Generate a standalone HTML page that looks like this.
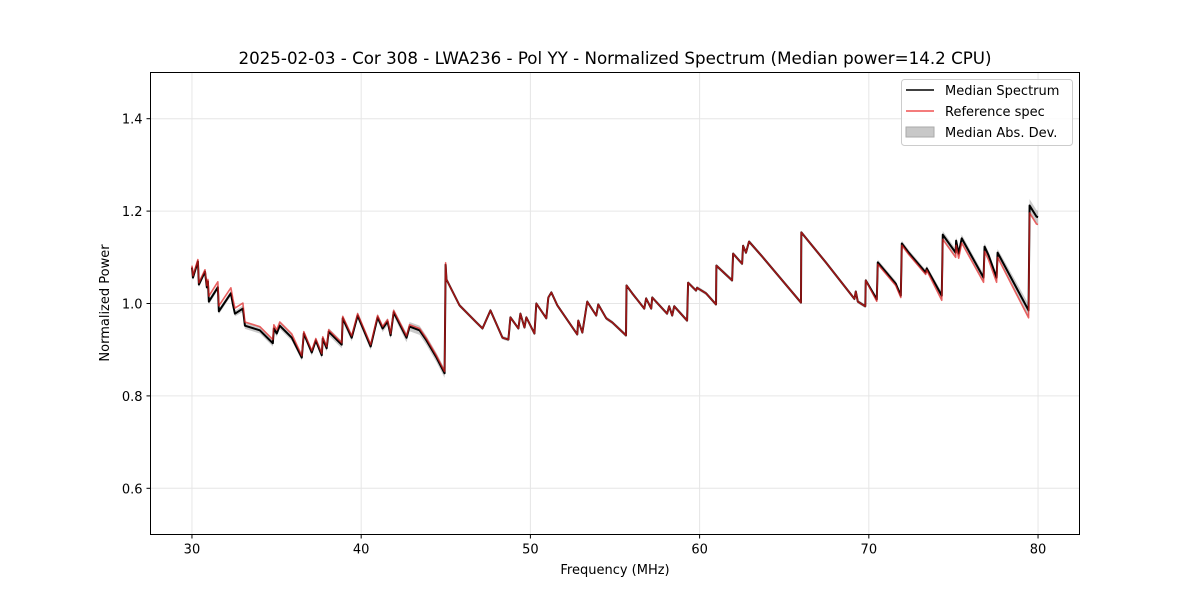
<!DOCTYPE html>
<html><head><meta charset="utf-8"><style>
body{margin:0;background:#fff;}
svg{display:block;font-family:"DejaVu Sans","Liberation Sans",sans-serif;}
</style></head><body>
<svg id="chart" width="1200" height="600" viewBox="0 0 1200 600">
<rect x="0" y="0" width="1200" height="600" fill="#fff"/>
<text x="615" y="64" font-size="16.7" text-anchor="middle">2025-02-03 - Cor 308 - LWA236 - Pol YY - Normalized Spectrum (Median power=14.2 CPU)</text>
<g id="grid"></g>
<g id="marks"></g>
<rect x="150.5" y="72.5" width="929" height="462" fill="none" stroke="#000" stroke-width="1"/>
<g id="ticks"></g>
<text x="615" y="574" font-size="13" text-anchor="middle">Frequency (MHz)</text>
<text x="109" y="303" font-size="13" text-anchor="middle" transform="rotate(-90 109 303)">Normalized Power</text>
<g>
<rect x="901.5" y="79.5" width="171" height="66" rx="3" fill="#fff" fill-opacity="0.8" stroke="#ccc"/>
<line x1="906" y1="90" x2="934" y2="90" stroke="#000" stroke-width="1.5"/>
<text x="945" y="95" font-size="13">Median Spectrum</text>
<line x1="906" y1="111" x2="934" y2="111" stroke="#f05050" stroke-width="1.5"/>
<text x="945" y="116" font-size="13">Reference spec</text>
<rect x="906" y="127" width="28" height="10" fill="#c8c8c8" stroke="#aaa"/>
<text x="945" y="137" font-size="13">Median Abs. Dev.</text>
</g>
</svg>
<script>
const freqs=[30.00,30.06,30.35,30.41,30.77,30.88,30.94,31.00,31.53,31.59,32.30,32.42,32.54,33.01,33.13,34.01,34.78,34.84,35.01,35.19,35.90,36.49,36.61,37.08,37.32,37.67,37.73,37.96,38.08,38.85,38.91,39.44,39.79,40.56,40.97,41.27,41.56,41.74,41.92,42.68,42.86,43.45,43.86,44.45,44.93,44.99,45.04,45.81,46.81,47.17,47.64,48.35,48.70,48.82,49.29,49.41,49.65,49.76,50.24,50.35,50.94,51.06,51.24,51.59,52.77,52.83,53.07,53.36,53.89,54.01,54.48,54.84,55.65,55.68,56.02,56.73,56.84,57.14,57.20,58.08,58.20,58.38,58.50,59.26,59.32,59.79,59.85,60.38,60.97,60.99,61.92,61.98,62.51,62.57,62.74,62.92,63.69,65.99,66.01,67.46,69.15,69.23,69.35,69.79,69.82,70.47,70.53,71.59,71.89,71.95,72.36,73.36,73.42,74.31,74.37,75.13,75.16,75.31,75.49,76.78,76.84,77.08,77.55,77.61,79.44,79.50,79.91,80.00];
const median=[1.078,1.056,1.091,1.041,1.069,1.035,1.048,1.004,1.035,0.983,1.022,0.998,0.978,0.989,0.952,0.942,0.914,0.946,0.935,0.952,0.926,0.883,0.935,0.894,0.920,0.888,0.924,0.903,0.939,0.911,0.968,0.926,0.974,0.907,0.970,0.946,0.961,0.931,0.981,0.926,0.950,0.942,0.920,0.883,0.849,1.084,1.052,0.996,0.959,0.946,0.985,0.926,0.922,0.970,0.946,0.978,0.948,0.970,0.935,1.000,0.968,1.013,1.024,0.996,0.933,0.963,0.937,1.004,0.974,0.998,0.968,0.959,0.931,1.039,1.022,0.989,1.011,0.989,1.013,0.978,0.994,0.974,0.994,0.963,1.045,1.028,1.034,1.022,0.998,1.082,1.050,1.108,1.086,1.125,1.110,1.134,1.102,1.002,1.154,1.089,1.010,1.026,1.004,0.994,1.050,1.009,1.089,1.043,1.017,1.130,1.110,1.067,1.076,1.017,1.149,1.110,1.136,1.108,1.141,1.056,1.123,1.104,1.056,1.110,0.985,1.212,1.188,1.187];
const refAdjust=[[30,31,0.004],[31,33.1,0.012],[33.1,36,0.008],[36,45,0.004],[45,70,0],[70,74,-0.004],[74,78,-0.01],[78,80.1,-0.016]];
const madWidth=[[30,33,0.006],[33,38,0.007],[38,42,0.008],[42,45,0.01],[45,70,0.004],[70,74,0.006],[74,79.4,0.008],[79.4,80.1,0.014]];
const xTicks=[30,40,50,60,70,80];
const yTicks=[0.6,0.8,1.0,1.2,1.4];
const X0=150.5,X1=1079.5,Y0=534.5,Y1=72.5;
const xMin=27.55,xMax=82.45,yMin=0.5,yMax=1.5;
function xs(f){return X0+(f-xMin)/(xMax-xMin)*(X1-X0);}
function ys(v){return Y0-(v-yMin)/(yMax-yMin)*(Y0-Y1);}
function lookup(tab,f){for(const r of tab){if(f>=r[0]&&f<r[1])return r[2];}return tab[tab.length-1][2];}
const NS='http://www.w3.org/2000/svg';
const grid=document.getElementById('grid'),ticks=document.getElementById('ticks'),marks=document.getElementById('marks');
xTicks.forEach(t=>{
 const x=xs(t);
 const g=document.createElementNS(NS,'line');
 
 
 g.setAttribute('x1',x);g.setAttribute('x2',x);g.setAttribute('y1',Y1);g.setAttribute('y2',Y0);g.setAttribute('stroke','#e6e6e6');
 grid.appendChild(g);
 const tk=document.createElementNS(NS,'line');
 
 
 tk.setAttribute('x1',x);tk.setAttribute('x2',x);tk.setAttribute('y1',Y0);tk.setAttribute('y2',Y0+4);tk.setAttribute('stroke','#000');
 ticks.appendChild(tk);
 const tl=document.createElementNS(NS,'text');
 
 
 tl.setAttribute('x',x);tl.setAttribute('y',Y0+19);tl.setAttribute('font-size','13');tl.setAttribute('text-anchor','middle');
 tl.textContent=t;ticks.appendChild(tl);
});
yTicks.forEach(t=>{
 const y=ys(t);
 const g=document.createElementNS(NS,'line');
 
 
 g.setAttribute('x1',X0);g.setAttribute('x2',X1);g.setAttribute('y1',y);g.setAttribute('y2',y);g.setAttribute('stroke','#e6e6e6');
 grid.appendChild(g);
 const tk=document.createElementNS(NS,'line');
 
 
 tk.setAttribute('x1',X0-4);tk.setAttribute('x2',X0);tk.setAttribute('y1',y);tk.setAttribute('y2',y);tk.setAttribute('stroke','#000');
 ticks.appendChild(tk);
 const tl=document.createElementNS(NS,'text');
 
 
 tl.setAttribute('x',X0-8);tl.setAttribute('y',y+5);tl.setAttribute('font-size','13');tl.setAttribute('text-anchor','end');
 tl.textContent=t.toFixed(1);ticks.appendChild(tl);
});
let up=[],dn=[];
freqs.forEach((f,i)=>{const w=lookup(madWidth,f);up.push(xs(f)+','+ys(median[i]+w));dn.unshift(xs(f)+','+ys(median[i]-w));});
const band=document.createElementNS(NS,'polygon');


band.setAttribute('points',up.concat(dn).join(' '));band.setAttribute('fill','#b4b4b4');band.setAttribute('fill-opacity','0.7');
marks.appendChild(band);
const medLine=document.createElementNS(NS,'polyline');


medLine.setAttribute('points',freqs.map((f,i)=>xs(f)+','+ys(median[i])).join(' '));
medLine.setAttribute('fill','none');medLine.setAttribute('stroke','#000');medLine.setAttribute('stroke-width','2');medLine.setAttribute('stroke-linejoin','round');
marks.appendChild(medLine);
const refLine=document.createElementNS(NS,'polyline');


refLine.setAttribute('points',freqs.map((f,i)=>xs(f)+','+ys(median[i]+lookup(refAdjust,f))).join(' '));
refLine.setAttribute('fill','none');refLine.setAttribute('stroke','#e02020');refLine.setAttribute('stroke-opacity','0.7');refLine.setAttribute('stroke-width','1.6');refLine.setAttribute('stroke-linejoin','round');
marks.appendChild(refLine);
</script>
</body></html>
